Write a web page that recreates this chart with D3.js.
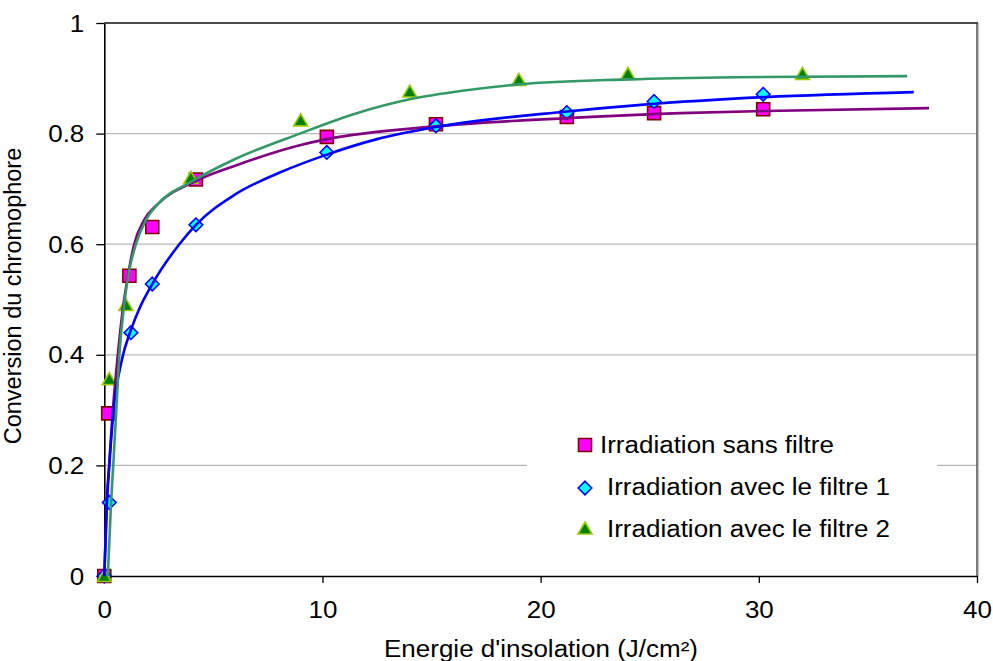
<!DOCTYPE html>
<html><head><meta charset="utf-8">
<script src="https://cdn.jsdelivr.net/npm/d3@7"></script>
<style>
body{margin:0;background:#fff}
svg{display:block}
text{font-family:"Liberation Sans",Arial,Helvetica,sans-serif;fill:#000}
</style>
</head><body>
<svg id="chart" width="993" height="661"></svg>
<script>
// ---------------- data ----------------
const seriesNames = ["Irradiation sans filtre", "Irradiation avec le filtre 1", "Irradiation avec le filtre 2"];

// measured points
const sansX   = [0, 0.18, 1.15, 2.2, 4.2, 10.2, 15.2, 21.2, 25.2, 30.2];
const sansY   = [0, 0.294, 0.543, 0.631, 0.717, 0.794, 0.817, 0.830, 0.837, 0.844];
const filt1X  = [0, 0.23, 1.22, 2.2, 4.2, 10.2, 15.2, 21.2, 25.2, 30.2];
const filt1Y  = [0, 0.133, 0.44, 0.528, 0.635, 0.766, 0.814, 0.838, 0.858, 0.871];
const filt2X  = [0, 0.23, 0.99, 3.97, 9.0, 14.0, 19.0, 24.0, 32.0];
const filt2Y  = [0, 0.356, 0.49, 0.72, 0.824, 0.876, 0.897, 0.908, 0.908];

// fitted trend curves
const fitSansX  = [0, 0.11, 0.22, 0.38, 0.62, 0.84, 1.07, 1.37, 1.83, 2.44, 4.23, 6.0, 8.96, 10.2, 15.2, 21.2, 26.4, 30.3, 37.8];
const fitSansY  = [0, 0.132, 0.2, 0.294, 0.4, 0.48, 0.54, 0.6, 0.644, 0.672, 0.715, 0.742, 0.779, 0.79, 0.813, 0.828, 0.837, 0.841, 0.846];
const fitFilt1X = [0, 0.12, 0.23, 0.41, 0.8, 1.22, 1.6, 2.2, 3.44, 4.2, 6.0, 8.07, 10.2, 12.5, 15.2, 21.2, 24.6, 30.3, 37.1];
const fitFilt1Y = [0, 0.131, 0.2, 0.294, 0.39, 0.445, 0.483, 0.528, 0.6, 0.635, 0.69, 0.73, 0.762, 0.79, 0.812, 0.84, 0.852, 0.866, 0.875];
const fitFilt2X = [0.16, 0.31, 0.41, 0.54, 0.69, 0.92, 1.15, 1.45, 1.91, 2.44, 4.0, 6.0, 8.96, 11.5, 14.0, 16.5, 19.0, 24.0, 29.0, 36.8];
const fitFilt2Y = [0, 0.132, 0.2, 0.294, 0.4, 0.494, 0.554, 0.6, 0.644, 0.672, 0.713, 0.754, 0.80, 0.836, 0.862, 0.878, 0.889, 0.898, 0.902, 0.904];

const xTickValues = [0, 10, 20, 30, 40];
const xTickLabels = ["0", "10", "20", "30", "40"];
const yTickValues = [0, 0.2, 0.4, 0.6, 0.8, 1];
const yTickLabels = ["0", "0.2", "0.4", "0.6", "0.8", "1"];
const xTitle = "Energie d'insolation (J/cm²)";
const yTitle = "Conversion du chromophore";

// ---------------- layout ----------------
const L = 104.3, R = 977, T = 23, B = 576;
const FS = 23, SX = 1.13;   // font size & horizontal stretch of the original text

const svg = d3.select("#chart");
const x = d3.scaleLinear().domain([0, 40]).range([L, R]);
const y = d3.scaleLinear().domain([0, 1]).range([B, T]);

const zip = (a, b) => a.map((v, i) => [v, b[i]]);

// gridlines
svg.append("g").selectAll("line")
  .data(yTickValues.filter(d => d > 0 && d < 1))
  .join("line")
  .attr("x1", L).attr("x2", R)
  .attr("y1", d => y(d)).attr("y2", d => y(d))
  .attr("stroke", "#b8b8b8").attr("stroke-width", 1.3);

// plot frame top / right
svg.append("line").attr("x1", L).attr("x2", R + 1).attr("y1", T).attr("y2", T)
  .attr("stroke", "#111").attr("stroke-width", 1.6);
svg.append("line").attr("x1", R + 1.6).attr("x2", R + 1.6).attr("y1", T).attr("y2", B)
  .attr("stroke", "#c8c8c8").attr("stroke-width", 1.2);
svg.append("line").attr("x1", R).attr("x2", R).attr("y1", T).attr("y2", B)
  .attr("stroke", "#444").attr("stroke-width", 1.4);

// legend background (hides gridline)
const legX = 527, legW = 410, legY = 422, legH = 132;
svg.append("rect").attr("x", legX).attr("y", legY).attr("width", legW).attr("height", legH)
  .attr("fill", "#fff");

// axes
const yAxis = d3.axisLeft(y).tickValues(yTickValues).tickSize(8).tickSizeOuter(0)
  .tickFormat((d, i) => yTickLabels[i]);
const gy = svg.append("g").attr("transform", `translate(${L},0)`).call(yAxis);
gy.select(".domain").attr("stroke", "#000").attr("stroke-width", 1.6);
gy.selectAll(".tick line").attr("stroke", "#000").attr("stroke-width", 1.3);
gy.selectAll(".tick text").attr("font-size", FS).attr("font-family", null)
  .attr("x", -20 / SX).attr("dy", "0.35em").attr("transform", `scale(${SX},1)`);

const xAxis = d3.axisBottom(x).tickValues(xTickValues).tickSize(7).tickSizeOuter(0)
  .tickFormat((d, i) => xTickLabels[i]);
const gx = svg.append("g").attr("transform", `translate(0,${B})`).call(xAxis);
gx.select(".domain").attr("stroke", "#000").attr("stroke-width", 1.6);
gx.selectAll(".tick line").attr("stroke", "#000").attr("stroke-width", 1.3);
gx.selectAll(".tick text").attr("font-size", FS).attr("font-family", null)
  .attr("y", 42).attr("dy", 0).attr("transform", `scale(${SX},1)`);

// axis titles
svg.append("text").text(xTitle).attr("font-size", FS).attr("text-anchor", "middle")
  .attr("transform", `translate(541,657) scale(${SX},1)`);
svg.append("text").text(yTitle).attr("font-size", 23.5).attr("text-anchor", "middle")
  .attr("transform", `translate(21,296) rotate(-90)`);

// marker shapes
const sq = 6.5;
const shapes = {
  square: `M${-sq},${-sq}H${sq}V${sq}H${-sq}Z`,
  diamond: `M0,${-6.8}L6.8,0L0,6.8L-6.8,0Z`,
  triangle: `M0,-6.5L7,5.5L-7,5.5Z`
};
const styles = [
  {shape: "square",   fill: "#ff00ff", stroke: "#800000", line: "#800080"},
  {shape: "diamond",  fill: "#00ffff", stroke: "#0000ff", line: "#0000ff"},
  {shape: "triangle", fill: "#008000", stroke: "#99cc00", line: "#339966"}
];
const points = [zip(sansX, sansY), zip(filt1X, filt1Y), zip(filt2X, filt2Y)];
const fits = [zip(fitSansX, fitSansY), zip(fitFilt1X, fitFilt1Y), zip(fitFilt2X, fitFilt2Y)];

points.forEach((pts, i) => {
  svg.append("g").selectAll("path").data(pts).join("path")
    .attr("d", shapes[styles[i].shape])
    .attr("transform", d => `translate(${x(d[0])},${y(d[1])})`)
    .attr("fill", styles[i].fill).attr("stroke", styles[i].stroke).attr("stroke-width", 1.6);
});

const line = d3.line().x(d => x(d[0])).y(d => y(d[1])).curve(d3.curveMonotoneX);
fits.forEach((f, i) => {
  svg.append("path").attr("d", line(f)).attr("fill", "none")
    .attr("stroke", styles[i].line).attr("stroke-width", 2.6);
});

// legend
const legRows = [
  {cy: 445, tx: 600, base: 453},
  {cy: 488, tx: 607, base: 495},
  {cy: 528.5, tx: 607, base: 537}
];
legRows.forEach((r, i) => {
  svg.append("path").attr("d", shapes[styles[i].shape])
    .attr("transform", `translate(585,${r.cy})`)
    .attr("fill", styles[i].fill).attr("stroke", styles[i].stroke).attr("stroke-width", 1.6);
  svg.append("text").text(seriesNames[i]).attr("font-size", FS)
    .attr("transform", `translate(${r.tx},${r.base}) scale(${SX},1)`);
});
</script>
</body></html>
